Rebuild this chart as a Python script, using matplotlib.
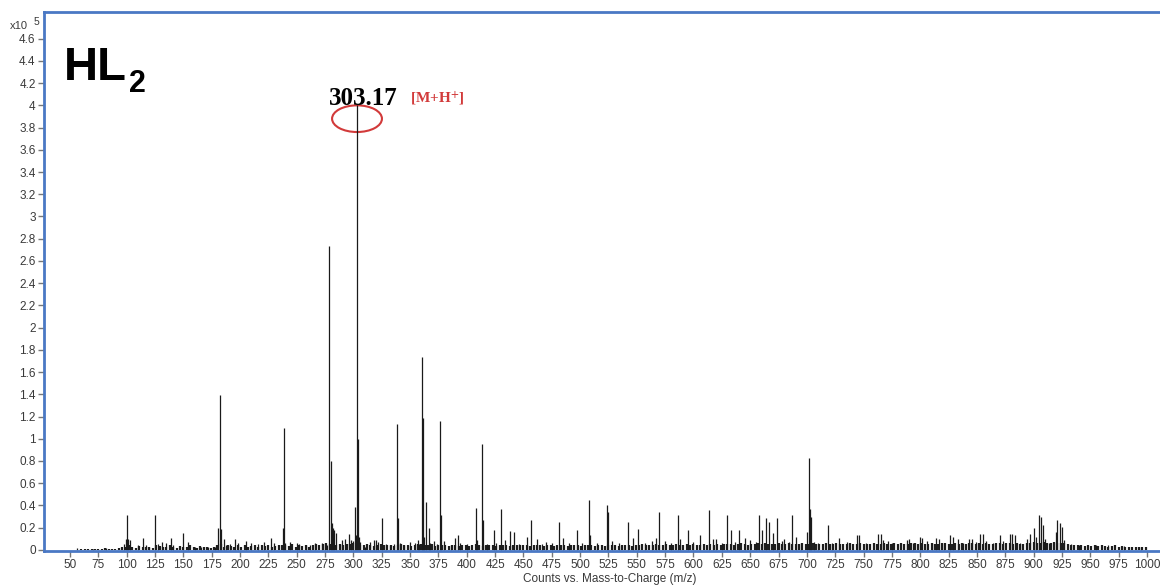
import numpy as np
import matplotlib
matplotlib.use("Agg")
import matplotlib.pyplot as plt
from matplotlib.patches import Ellipse
from matplotlib.ticker import FormatStrFormatter

# intensities are in units of 1e5 counts
peak_mz = [56, 70, 82, 98, 99, 100, 101, 103, 110, 114, 117, 120, 125, 128, 131, 135, 139, 141,
           150, 154, 160, 166, 172, 178, 181, 182.3, 183, 186, 188, 191, 196, 198, 205, 210, 216,
           221, 227, 230, 238, 238.9, 240, 244, 250, 252, 258, 262, 266, 272, 275, 277, 278.6, 280,
           281, 282, 283, 285, 288, 290, 293, 296, 298, 300, 301.2, 302, 303.2, 304.2, 305, 306, 310,
           315, 318, 320, 322, 325.6, 329, 332, 336, 338.3, 339.4, 341, 345, 350, 354, 357, 358,
           360.3, 361.5, 362.5, 364.2, 366.3, 368, 371, 374, 376.7, 377.6, 380, 386, 390, 392, 394,
           400, 408.4, 409.3, 413.7, 414.5, 418, 424.3, 426, 430, 434, 438, 442, 446, 453, 457, 462,
           466, 470, 475, 481.6, 485, 490, 497.5, 502, 508, 509, 515, 523.4, 524.5, 528, 534, 542,
           547, 550.7, 557, 563, 567, 570, 575, 580, 586, 588, 595.4, 600, 606, 613.6, 617, 620,
           625, 630, 633, 637, 640, 645, 650, 655, 658, 660, 664, 667, 670, 674, 678, 680, 684,
           686.6, 690, 695, 700.5, 702.2, 703, 704, 706, 710, 718.3, 722, 728.6, 735, 744.4, 746,
           752, 762.4, 765, 767, 772, 775, 788, 790, 794, 799.7, 802, 806, 810, 814, 817, 821,
           826.6, 829, 833, 838, 843, 846, 849, 852.6, 855, 858, 864, 870, 873, 879, 881, 884,
           888, 894.5, 897, 900, 902, 905, 906.5, 908, 910, 914, 919.4, 921, 923, 925, 927, 933,
           940, 955, 966, 980, 995]
peak_int = [0.02, 0.01, 0.02, 0.05, 0.1, 0.31, 0.1, 0.09, 0.04, 0.105, 0.04, 0.03, 0.315, 0.05, 0.07,
            0.065, 0.105, 0.04, 0.155, 0.07, 0.03, 0.03, 0.03, 0.03, 0.2, 1.39, 0.19, 0.1, 0.04, 0.05,
            0.1, 0.06, 0.08, 0.065, 0.05, 0.075, 0.11, 0.06, 0.2, 1.10, 0.06, 0.075, 0.065, 0.05, 0.04,
            0.04, 0.06, 0.06, 0.065, 0.04, 2.73, 0.8, 0.24, 0.2, 0.18, 0.15, 0.05, 0.09, 0.1, 0.14,
            0.09, 0.08, 0.39, 0.13, 4.0, 1.0, 0.12, 0.07, 0.03, 0.07, 0.09, 0.09, 0.07, 0.29, 0.05,
            0.04, 0.05, 1.13, 0.29, 0.06, 0.04, 0.075, 0.06, 0.085, 0.05, 1.74, 1.19, 0.12, 0.43, 0.2,
            0.06, 0.08, 0.05, 1.16, 0.31, 0.08, 0.04, 0.11, 0.13, 0.06, 0.05, 0.375, 0.09, 0.95, 0.27,
            0.05, 0.18, 0.06, 0.37, 0.09, 0.17, 0.16, 0.05, 0.12, 0.27, 0.1, 0.05, 0.07, 0.06, 0.25,
            0.11, 0.06, 0.18, 0.06, 0.45, 0.13, 0.06, 0.405, 0.34, 0.08, 0.06, 0.25, 0.11, 0.19, 0.06,
            0.08, 0.11, 0.34, 0.08, 0.06, 0.315, 0.1, 0.18, 0.07, 0.13, 0.355, 0.1, 0.1, 0.06, 0.31,
            0.18, 0.07, 0.18, 0.11, 0.09, 0.07, 0.31, 0.18, 0.29, 0.25, 0.15, 0.285, 0.08, 0.1, 0.07,
            0.31, 0.12, 0.06, 0.16, 0.83, 0.37, 0.3, 0.07, 0.06, 0.225, 0.06, 0.11, 0.07, 0.13, 0.13,
            0.06, 0.14, 0.14, 0.09, 0.08, 0.06, 0.09, 0.1, 0.06, 0.12, 0.11, 0.08, 0.06, 0.11, 0.1,
            0.06, 0.13, 0.12, 0.1, 0.06, 0.1, 0.1, 0.07, 0.14, 0.14, 0.08, 0.06, 0.13, 0.08, 0.14,
            0.14, 0.13, 0.06, 0.1, 0.14, 0.2, 0.12, 0.315, 0.3, 0.22, 0.1, 0.06, 0.16, 0.27, 0.24,
            0.21, 0.09, 0.05, 0.04, 0.04, 0.045, 0.035, 0.03]

# low-level background ions, one every 3 m/z from 60 to 999
grass_start, grass_step = 60, 3
grass_int = [
    0.01, 0.005, 0.008, 0.012, 0.006, 0.004, 0.01, 0.015, 0.008, 0.01,
    0.012, 0.02, 0.03, 0.025, 0.04, 0.03, 0.02, 0.035, 0.03, 0.025,
    0.03, 0.02, 0.04, 0.035, 0.025, 0.03, 0.045, 0.03, 0.02, 0.035,
    0.03, 0.025, 0.04, 0.03, 0.02, 0.035, 0.025, 0.03, 0.02, 0.03,
    0.04, 0.05, 0.03, 0.04, 0.035, 0.03, 0.045, 0.03, 0.04, 0.03,
    0.035, 0.04, 0.03, 0.045, 0.035, 0.04, 0.03, 0.035, 0.045, 0.04,
    0.04, 0.035, 0.05, 0.03, 0.04, 0.035, 0.045, 0.03, 0.04, 0.05,
    0.045, 0.05, 0.06, 0.05, 0.04, 0.045, 0.05, 0.04, 0.055, 0.05,
    0.06, 0.05, 0.04, 0.045, 0.05, 0.04, 0.035, 0.045, 0.05, 0.04,
    0.04, 0.045, 0.035, 0.04, 0.05, 0.04, 0.045, 0.035, 0.04, 0.05,
    0.05, 0.045, 0.04, 0.05, 0.035, 0.04, 0.045, 0.04, 0.035, 0.04,
    0.04, 0.035, 0.04, 0.045, 0.035, 0.04, 0.05, 0.04, 0.035, 0.04,
    0.045, 0.04, 0.035, 0.04, 0.045, 0.04, 0.035, 0.04, 0.045, 0.04,
    0.04, 0.045, 0.035, 0.04, 0.045, 0.04, 0.035, 0.045, 0.04, 0.035,
    0.04, 0.045, 0.04, 0.035, 0.04, 0.045, 0.04, 0.035, 0.04, 0.045,
    0.04, 0.035, 0.045, 0.04, 0.035, 0.04, 0.045, 0.04, 0.035, 0.04,
    0.045, 0.04, 0.035, 0.045, 0.04, 0.05, 0.04, 0.045, 0.04, 0.05,
    0.045, 0.04, 0.05, 0.045, 0.04, 0.05, 0.045, 0.04, 0.05, 0.045,
    0.05, 0.045, 0.04, 0.05, 0.045, 0.05, 0.04, 0.055, 0.045, 0.05,
    0.05, 0.055, 0.045, 0.05, 0.06, 0.05, 0.045, 0.055, 0.05, 0.06,
    0.055, 0.06, 0.05, 0.055, 0.05, 0.06, 0.055, 0.05, 0.06, 0.055,
    0.05, 0.055, 0.06, 0.05, 0.055, 0.06, 0.05, 0.055, 0.05, 0.06,
    0.055, 0.05, 0.06, 0.05, 0.055, 0.05, 0.06, 0.055, 0.05, 0.06,
    0.05, 0.055, 0.05, 0.06, 0.055, 0.05, 0.06, 0.05, 0.055, 0.06,
    0.05, 0.06, 0.055, 0.05, 0.06, 0.065, 0.05, 0.06, 0.055, 0.05,
    0.06, 0.055, 0.05, 0.06, 0.065, 0.055, 0.05, 0.06, 0.055, 0.06,
    0.055, 0.06, 0.065, 0.05, 0.06, 0.055, 0.06, 0.05, 0.055, 0.06,
    0.06, 0.055, 0.06, 0.065, 0.05, 0.06, 0.055, 0.05, 0.06, 0.065,
    0.07, 0.065, 0.06, 0.07, 0.065, 0.06, 0.07, 0.06, 0.065, 0.06,
    0.05, 0.045, 0.04, 0.045, 0.04, 0.035, 0.04, 0.035, 0.04, 0.035,
    0.04, 0.035, 0.03, 0.035, 0.04, 0.03, 0.035, 0.03, 0.025, 0.03,
    0.03, 0.025, 0.03, 0.025,
]
grass_mz = grass_start + grass_step * np.arange(len(grass_int))

xticks = np.arange(50, 1001, 25)
yticks = np.arange(0, 4.61, 0.2)

W, H = 1160, 586
fig = plt.figure(figsize=(W / 100, H / 100), dpi=100)
ax = fig.add_axes([44 / W, 35 / H, 1116 / W, 539 / H])

ax.vlines(grass_mz, 0, grass_int, color='#1e1e1e', lw=1.6)
ax.vlines(peak_mz, 0, peak_int, color='#1a1a1a', lw=0.9)

ax.set_xlim(27.1, 1011.5)
ax.set_ylim(-0.01, 4.84)
ax.set_xticks(xticks)
ax.set_yticks(yticks)
ax.yaxis.set_major_formatter(FormatStrFormatter('%g'))
ax.tick_params(length=4, width=1, color='#777777', labelcolor='#3a3a3a', labelsize=8.5, pad=2)
for lab in ax.get_xticklabels() + ax.get_yticklabels():
    lab.set_family('Liberation Sans')

for side in ['left', 'top', 'bottom']:
    ax.spines[side].set_color('#4a78c4')
    ax.spines[side].set_linewidth(2)
ax.spines['right'].set_visible(False)

# red ellipse round the molecular ion
ax.add_patch(Ellipse((303.2, 3.88), width=44, height=0.24, fill=False,
                     edgecolor='#d23a3a', lw=1.5))

fig.text(10 / W, 1 - 29 / H, 'x10', fontsize=8, color='#3a3a3a', family='Liberation Sans')
fig.text(34 / W, 1 - 25 / H, '5', fontsize=7.5, color='#3a3a3a', family='Liberation Sans')

fig.text(64 / W, 1 - 80 / H, 'HL', fontsize=34, weight='bold', family='Liberation Sans', va='baseline')
fig.text(129 / W, 1 - 92 / H, '2', fontsize=22, weight='bold', family='Liberation Sans', va='baseline')

plt.rcParams['mathtext.fontset'] = 'stix'
fig.text(329 / W, 1 - 105 / H, '303.17', fontsize=18, weight='bold', family='Liberation Serif',
         va='baseline')
fig.text(410 / W, 1 - 103 / H, r'[M+H$^{\mathbf{+}}$]', fontsize=11, weight='bold',
         family='Liberation Serif', color='#d23a3a', va='baseline')

fig.text(610 / W, 1 - 579 / H, 'Counts vs. Mass-to-Charge (m/z)', fontsize=8.5, color='#3a3a3a',
         family='Liberation Sans', ha='center', va='center')

fig.savefig('out.png', dpi=100, facecolor='white')
